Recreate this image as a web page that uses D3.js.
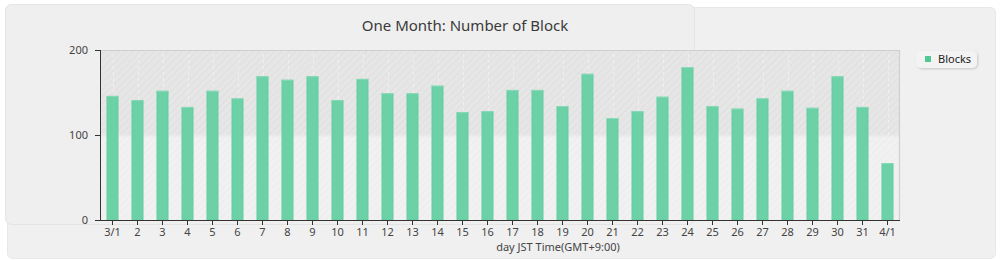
<!DOCTYPE html>
<html>
<head>
<meta charset="utf-8">
<script src="https://cdn.jsdelivr.net/npm/d3@7"></script>
<style>
  html, body { margin: 0; padding: 0; background: #fff; }
  svg { display: block; font-family: "Noto Sans", "Open Sans", sans-serif; }
</style>
</head>
<body>
<div id="chart"></div>
<script>
// days of the month (JST)
const days = ['3/1', '2', '3', '4', '5', '6', '7', '8', '9', '10', '11', '12', '13', '14', '15', '16',
  '17', '18', '19', '20', '21', '22', '23', '24', '25', '26', '27', '28', '29', '30', '31', '4/1'];
// blocks per day
const blocks = [146, 141, 152, 133, 152, 143, 169, 165, 169, 141, 166, 149, 149, 158, 127, 128,
  153, 153, 134, 172, 120, 128, 145, 180, 134, 131, 143, 152, 132, 169, 133, 67];
const yTicks = [0, 100, 200];
const seriesName = 'Blocks';

const width = 1000, height = 260;
const plot = { left: 100, right: 900, top: 50, bottom: 220 };

const svg = d3.select('#chart')
  .append('svg')
  .attr('width', width)
  .attr('height', height);

const defs = svg.append('defs');

// diagonal hatch for the two background bands
function hatch(id, bg, line) {
  const p = defs.append('pattern')
    .attr('id', id)
    .attr('patternUnits', 'userSpaceOnUse')
    .attr('width', 5)
    .attr('height', 5)
    .attr('patternTransform', 'rotate(45)');
  p.append('rect').attr('width', 5).attr('height', 5).attr('fill', bg);
  p.append('line')
    .attr('x1', 0).attr('y1', 0).attr('x2', 0).attr('y2', 5)
    .attr('stroke', line).attr('stroke-width', 2);
}
hatch('hatchDark', '#e6e6e6', '#dfdfdf');
hatch('hatchLight', '#f1f1f1', '#ececec');

const shadow = defs.append('filter').attr('id', 'shadow')
  .attr('x', '-20%').attr('y', '-20%').attr('width', '150%').attr('height', '180%');
shadow.append('feDropShadow')
  .attr('dx', 1).attr('dy', 1).attr('stdDeviation', 1)
  .attr('flood-color', '#000').attr('flood-opacity', 0.18);

// panels behind the chart
svg.append('rect')
  .attr('x', 7.5).attr('y', 7.5)
  .attr('width', 988).attr('height', 251)
  .attr('rx', 5)
  .attr('fill', '#f0f0f0')
  .attr('stroke', '#e8e8e8');

svg.append('rect')
  .attr('x', 5.5).attr('y', 4.5)
  .attr('width', 689).attr('height', 220)
  .attr('rx', 6)
  .attr('fill', '#efefef')
  .attr('stroke', '#e4e4e4');

// scales
const x = d3.scaleBand()
  .domain(days)
  .range([plot.left, plot.right])
  .paddingInner(0.52)
  .paddingOuter(0.26);

const y = d3.scaleLinear()
  .domain([0, 200])
  .range([plot.bottom, plot.top]);

const xCenter = d => x(d) + x.bandwidth() / 2;

// background bands
svg.append('rect')
  .attr('x', plot.left).attr('y', y(200))
  .attr('width', plot.right - plot.left).attr('height', y(100) - y(200))
  .attr('fill', 'url(#hatchDark)');
svg.append('rect')
  .attr('x', plot.left).attr('y', y(100))
  .attr('width', plot.right - plot.left).attr('height', y(0) - y(100))
  .attr('fill', 'url(#hatchLight)');

// soft edge between the bands
svg.append('line')
  .attr('x1', plot.left).attr('x2', plot.right)
  .attr('y1', y(100) + 0.5).attr('y2', y(100) + 0.5)
  .attr('stroke', '#e9e9e9').attr('stroke-width', 2);

// vertical dashed grid
svg.append('g')
  .selectAll('line')
  .data(days)
  .join('line')
  .attr('x1', d => Math.round(xCenter(d)) + 0.5)
  .attr('x2', d => Math.round(xCenter(d)) + 0.5)
  .attr('y1', plot.top - 2)
  .attr('y2', plot.bottom)
  .attr('stroke', '#f2f2f2')
  .attr('stroke-opacity', 0.8)
  .attr('stroke-dasharray', '3,3');

// plot frame top & right
svg.append('path')
  .attr('d', `M${plot.left},${plot.top + 0.5}H${plot.right - 0.5}V${plot.bottom}`)
  .attr('fill', 'none')
  .attr('stroke', '#cfcfcf')
  .attr('stroke-width', 1.2);

// bars
svg.append('g')
  .selectAll('rect')
  .data(blocks)
  .join('rect')
  .attr('x', (d, i) => x(days[i]) + 0.5)
  .attr('y', d => y(d) + 0.5)
  .attr('width', x.bandwidth() - 1)
  .attr('height', d => y(0) - y(d) - 0.5)
  .attr('fill', '#6cd1a7')
  .attr('stroke', '#62cd9f')
  .attr('stroke-width', 1);

// bar top highlight
svg.append('g')
  .selectAll('line')
  .data(blocks)
  .join('line')
  .attr('x1', (d, i) => x(days[i]))
  .attr('x2', (d, i) => x(days[i]) + x.bandwidth())
  .attr('y1', d => y(d) + 0.5)
  .attr('y2', d => y(d) + 0.5)
  .attr('stroke', '#8ad9b8');

// axes
const yAxis = svg.append('g')
  .attr('transform', `translate(${plot.left},0)`)
  .call(d3.axisLeft(y).tickValues(yTicks).tickSize(5).tickPadding(7));

const xAxis = svg.append('g')
  .attr('transform', `translate(0,${plot.bottom})`)
  .call(d3.axisBottom(x).tickSize(5).tickPadding(3));

[yAxis, xAxis].forEach(g => {
  g.select('.domain').attr('stroke', '#333');
  g.selectAll('.tick line').attr('stroke', '#333');
  g.selectAll('.tick text')
    .attr('fill', '#444')
    .style('font-size', '11px')
    .style('font-family', '"Noto Sans", sans-serif');
});
xAxis.select('.domain').attr('d', `M${plot.left - 5},0.5H${plot.right}`);
yAxis.select('.domain').attr('d', `M0.5,${plot.top}V${plot.bottom}`);

// titles
svg.append('text')
  .attr('x', 465)
  .attr('y', 31)
  .attr('text-anchor', 'middle')
  .attr('fill', '#3a3a3a')
  .style('font-size', '15px')
  .text('One Month: Number of Block');

svg.append('text')
  .attr('x', 558)
  .attr('y', 251)
  .attr('text-anchor', 'middle')
  .attr('fill', '#444')
  .style('font-size', '11px')
  .text('day JST Time(GMT+9:00)');

// legend
const legend = svg.append('g').attr('transform', 'translate(916,51)');
legend.append('rect')
  .attr('width', 61).attr('height', 17)
  .attr('rx', 5)
  .attr('fill', '#f3f3f3')
  .attr('filter', 'url(#shadow)');
legend.append('rect')
  .attr('x', 9).attr('y', 5)
  .attr('width', 6).attr('height', 6)
  .attr('fill', '#52c994');
legend.append('text')
  .attr('x', 22).attr('y', 11.5)
  .attr('fill', '#222')
  .style('font-size', '11px')
  .text(seriesName);
</script>
</body>
</html>
